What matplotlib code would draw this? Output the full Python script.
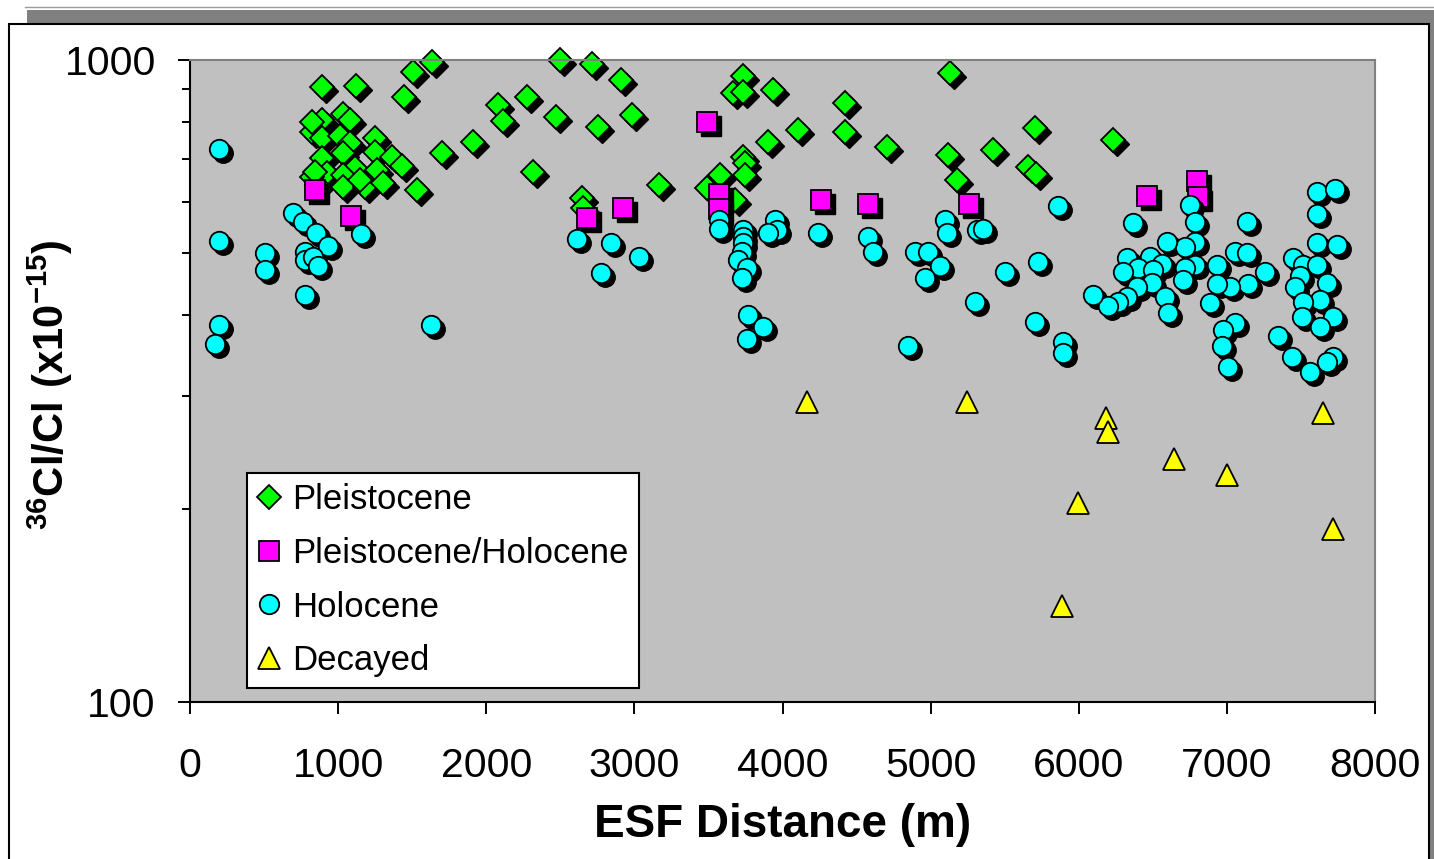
import matplotlib
matplotlib.use("Agg")
import matplotlib.pyplot as plt
from matplotlib.lines import Line2D
from matplotlib.patches import Rectangle
from matplotlib.transforms import offset_copy
from matplotlib import ticker

plt.rcParams['font.family'] = ['Liberation Sans', 'DejaVu Sans']
plt.rcParams['mathtext.fontset'] = 'custom'
plt.rcParams['mathtext.rm'] = 'Liberation Sans'
plt.rcParams['mathtext.bf'] = 'Liberation Sans:bold'

# ESF distance (m) and 36Cl/Cl (x1e-15)
pleist_x = [890, 1120, 1505, 1635, 1445, 1910, 1700, 890, 1035, 1080, 825, 890,
            1015, 1080, 1250, 1035, 1250, 1365, 1430, 890, 1115, 1260, 925, 1035,
            825, 1035, 1180, 1305, 1530, 855, 1150, 2080, 2275, 2470, 2500, 2715,
            2910, 2985, 2755, 3165, 2645, 2655, 2115, 2315, 3735, 3665, 3735, 3935,
            4420, 5130, 4105, 3900, 4420, 4705, 5115, 5180, 3735, 3745, 3745, 3580,
            3490, 3680, 5420, 5705, 5655, 5710, 6230, 825, 845]
pleist_y = [908, 911, 958, 992, 876, 745, 717, 807, 824, 807, 773, 756,
            762, 743, 756, 717, 719, 706, 684, 704, 679, 674, 667, 662,
            657, 634, 634, 644, 628, 639, 651, 851, 876, 815, 1000, 986,
            931, 821, 787, 639, 610, 588, 804, 670, 944, 888, 892, 898,
            857, 954, 778, 745, 773, 732, 712, 651, 706, 691, 662, 662,
            632, 606, 724, 784, 682, 665, 751, 800, 670]

ph_x = [845, 1085, 2680, 2925, 3490, 3570, 3570, 4260, 4575, 5260, 6460, 6800, 6805]
ph_y = [628, 572, 568, 588, 801, 619, 586, 606, 597, 597, 614, 648, 612]

holo_x = [195, 195, 195, 170, 505, 505, 695, 765, 850, 930, 775, 775, 830, 865,
          775, 1155, 1625, 2615, 2840, 3030, 2775, 3570, 3570, 3735, 3735, 3735,
          3725, 3700, 3760, 3725, 3950, 3965, 3900, 4240, 4575, 4610, 4895, 4980,
          5065, 4960, 5095, 5110, 5315, 5300, 3765, 3870, 3760, 4845, 5860, 5355,
          5725, 5500, 5705, 5895, 5895, 6365, 6750, 6785, 6785, 6715, 6595, 7135,
          7610, 7730, 7610, 7610, 7745, 6325, 6480, 6560, 6400, 6300, 6500, 6785,
          6715, 6705, 6935, 7055, 7135, 7255, 7145, 7020, 6935, 6495, 6395, 6325,
          6265, 6195, 6095, 6580, 6605, 6885, 7055, 6975, 6965, 7005, 7345, 7440,
          7560, 7715, 7675, 7445, 7515, 7610, 7495, 7460, 7675, 7630, 7515, 7505,
          7715, 7630]
holo_y = [727, 523, 387, 361, 501, 471, 578, 560, 538, 514, 503, 488, 494, 478,
          431, 536, 387, 527, 519, 494, 465, 564, 546, 544, 530, 519,
          503, 488, 475, 458, 564, 544, 538, 538, 530, 503, 503, 503,
          478, 458, 564, 538, 544, 420, 401, 384, 367, 358, 593, 546,
          485, 468, 391, 364, 350, 558, 595, 560, 521, 512, 521, 560,
          623, 630, 576, 519, 515, 492, 494, 481, 475, 468, 471, 480,
          475, 455, 480, 503, 501, 468, 447, 443, 447, 450, 443, 428,
          420, 414, 431, 428, 404, 419, 390, 380, 358, 332, 371, 345,
          326, 344, 338, 492, 480, 480, 460, 443, 450, 423, 420, 398,
          398, 384]

decay_x = [4165, 5245, 6185, 6195, 6645, 7000, 5995, 7650, 7715, 5885]
decay_y = [293, 293, 277, 263, 239, 226, 204, 282, 186, 141]

series = [
    ("Pleistocene", pleist_x, pleist_y, "D", "#00ff00", 12.3, True),
    ("Pleistocene/Holocene", ph_x, ph_y, "s", "#ff00ff", 14, True),
    ("Holocene", holo_x, holo_y, "o", "#00ffff", 14, True),
    ("Decayed", decay_x, decay_y, "^", "#ffff00", 16, False),
]

fig = plt.figure(figsize=(14.34, 8.59), dpi=100)

# outer chart frame like the spreadsheet original
fig.add_artist(Rectangle((0.0188, 0.9732), 0.99, 0.0152, transform=fig.transFigure,
                         facecolor="#808080", edgecolor="none"))
fig.add_artist(Line2D([0.0175, 1.0], [0.9918, 0.9918], transform=fig.transFigure,
                      color="#9a9a9a", lw=1))
fig.add_artist(Rectangle((0.9965, -0.01), 0.01, 0.99, transform=fig.transFigure,
                         facecolor="#808080", edgecolor="none"))
fig.add_artist(Rectangle((0.0063, -0.02), 0.9902, 0.9921, transform=fig.transFigure,
                         facecolor="none", edgecolor="black", lw=1.5))

ax = fig.add_axes([0.1325, 0.1828, 0.8264, 0.7474])
ax.set_facecolor("#c0c0c0")

shadow = offset_copy(ax.transData, fig=fig, x=4, y=-4, units="dots")
for name, xs, ys, mk, col, ms, has_shadow in series:
    if has_shadow:
        ax.plot(xs, ys, linestyle="none", marker=mk, markersize=ms, color="black",
                markeredgecolor="black", transform=shadow, clip_on=False)
    ax.plot(xs, ys, linestyle="none", marker=mk, markersize=ms, color=col,
            markeredgecolor="black", markeredgewidth=1.3, clip_on=False)

ax.set_xlim(0, 8000)
ax.set_yscale("log")
ax.set_ylim(100, 1000)
ax.set_xticks(range(0, 8001, 1000))
ax.set_yticks([100, 1000], labels=["100", "1000"])
ax.yaxis.set_minor_locator(ticker.LogLocator(base=10, subs=range(2, 10)))
ax.yaxis.set_minor_formatter(ticker.NullFormatter())

ax.tick_params(which="major", direction="out", length=8.6, width=1.4, labelsize=29.5)
ax.tick_params(axis="y", which="minor", direction="out", length=5.8, width=1.4)
ax.tick_params(axis="x", pad=24)
ax.tick_params(axis="y", pad=16)

for side in ["top", "right"]:
    ax.spines[side].set_color("#808080")
    ax.spines[side].set_linewidth(1.5)
for side in ["left", "bottom"]:
    ax.spines[side].set_color("black")
    ax.spines[side].set_linewidth(1.5)

ax.set_xlabel("ESF Distance (m)", fontsize=33, fontweight="bold")
ax.xaxis.set_label_coords(0.5, -0.158)
ax.set_ylabel(r"$^{\mathbf{36}}\mathbf{Cl/Cl\ (x10}^{\mathbf{-15}}\mathbf{)}$", fontsize=30)
ax.yaxis.set_label_coords(-0.097, 0.494)

handles = [Line2D([], [], linestyle="none", marker=mk, markersize=ms, color=col,
                  markeredgecolor="black", markeredgewidth=1.3, label=name)
           for name, xs, ys, mk, col, ms, has_shadow in series]
leg = ax.legend(handles=handles, loc="lower left", bbox_to_anchor=(0.048, 0.022),
                borderaxespad=0, fontsize=25, frameon=True, fancybox=False,
                edgecolor="black", framealpha=1, borderpad=0.3, labelspacing=0.6,
                handlelength=0.7, handletextpad=0.3, numpoints=1)
leg.get_frame().set_linewidth(1.5)

fig.savefig("out.png", dpi=100)
